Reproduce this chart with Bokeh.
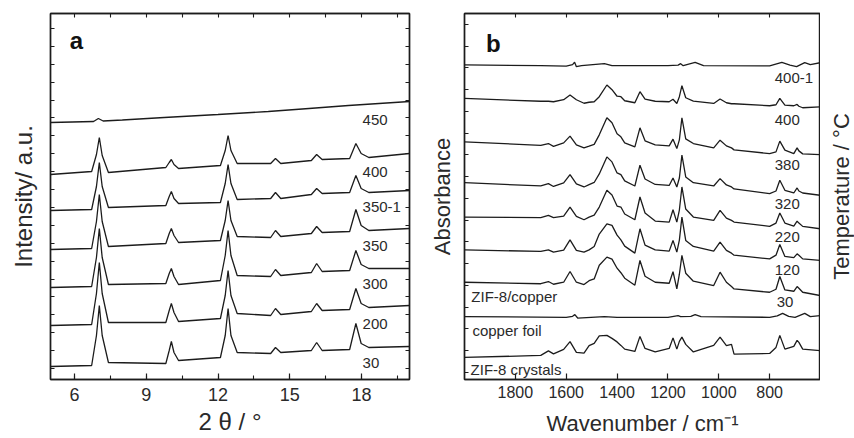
from bokeh.plotting import figure
from bokeh.models import Range1d, LinearAxis, FixedTicker, SingleIntervalTicker
from bokeh.layouts import row
from bokeh.embed import file_html
from bokeh.resources import INLINE
from bokeh.core.properties import value

FONT = "Liberation Sans"
INK = "#1c1c1c"
TXT = "#2a2a2a"

# ---------------- Panel a : XRD patterns (2 theta, intensity a.u.) ----------------
TWO_THETA = [5.0, 6.72, 6.92, 7.04, 7.16, 7.42, 9.82, 9.96, 10.05, 10.16, 10.35,
             12.1, 12.3, 12.42, 12.54, 12.8, 14.2, 14.4, 14.62, 15.9, 16.12, 16.35,
             17.5, 17.76, 17.98, 18.3, 20.0]
XRD_30 = [13, 14, 44, 74, 44, 17, 16, 29, 38, 27, 19, 22, 44, 71, 44, 27, 26, 32, 27,
          29, 37, 29, 30, 56, 36, 32, 33]
XRD_200 = [54, 55, 86, 117, 86, 57, 57, 69, 76, 67, 58, 61, 84, 109, 84, 66, 64, 71, 65,
           68, 76, 69, 70, 91, 76, 72, 74]
XRD_300 = [92, 93, 122, 151, 122, 95, 96, 106, 111, 103, 95, 99, 124, 149, 124, 104, 103,
           110, 104, 107, 116, 108, 109, 129, 115, 111, 111]
XRD_350 = [130, 131, 158, 185, 158, 133, 136, 146, 151, 144, 137, 139, 159, 179, 159, 143,
           142, 149, 143, 146, 153, 147, 148, 170, 154, 149, 151]
XRD_350_1 = [169, 170, 193, 217, 193, 172, 174, 183, 188, 181, 176, 177, 196, 215, 196, 180,
             181, 187, 181, 185, 191, 186, 187, 204, 191, 187, 189]
XRD_400 = [205, 208, 225, 242, 224, 207, 212, 217, 220, 215, 211, 214, 229, 244, 229, 216,
           216, 221, 216, 219, 225, 220, 221, 236, 226, 222, 226]
TWO_THETA_450 = [5.0, 6.8, 7.0, 7.2, 8.0, 9.75, 12.0, 14.1, 15.8, 17.45, 20.0]
XRD_450 = [257, 258, 261, 258.5, 259.5, 262, 265, 268, 271, 274, 278]

XRD_LABELS = ["450", "400", "350-1", "350", "300", "200", "30"]
XRD_LABEL_Y = [260, 208, 173, 134, 96, 56, 17]
XRD_LABEL_X = 18.04

# ---------------- Panel b : FTIR spectra (wavenumber, absorbance a.u.) ----------------
WAVENUMBER = [2000, 1700, 1670, 1650, 1610, 1585, 1560, 1530, 1510, 1490, 1470, 1440, 1420,
              1400, 1385, 1370, 1330, 1310, 1290, 1250, 1195, 1180, 1165, 1155, 1145, 1130,
              1100, 1020, 995, 970, 950, 940, 800, 775, 760, 740, 705, 692, 685, 670, 600]
IR_400 = [280.3, 277.5, 277.5, 277, 279, 283.7, 279, 275.5, 276.5, 277, 282, 293.7, 289,
          282.5, 282, 278, 276, 287, 279.5, 277.5, 277, 279.5, 275.3, 282, 293, 281, 277.7,
          275.3, 279.7, 276, 275, 275, 273, 274, 280.3, 273.7, 273, 274.3, 272.5, 271, 272]
IR_380 = [237, 233.5, 235.3, 232.5, 236, 242.7, 234, 231, 232.7, 234.5, 244, 261, 256, 245,
          242, 236, 232, 251, 238, 234, 233, 239.7, 230.3, 239, 261, 240, 235.3, 231, 238.7,
          233, 231, 229, 225.3, 227, 237.7, 228.7, 225.3, 231, 228, 225, 224.3]
IR_320 = [196.3, 193, 195.3, 192.5, 196, 204.3, 195, 192, 194.3, 196.5, 205, 222, 217, 206,
          204.3, 198, 193, 213.7, 200, 194.5, 193.5, 201, 192, 201, 223.7, 202, 196.3, 193,
          200.3, 194, 192, 190, 185.3, 188, 198.7, 188.7, 186, 191, 188, 186, 183.7]
IR_220 = [162, 161.5, 163.7, 161.5, 163, 172, 162.7, 159.3, 162, 164, 172, 188.7, 184, 173,
          172, 165, 159.3, 182, 166, 158, 157, 169.3, 157, 169, 192, 170, 162, 158.7, 168.7,
          161, 158.7, 157, 152.7, 156, 166, 156, 153, 158, 156, 152.7, 150.3]
IR_120 = [129.3, 127.7, 129.3, 127, 129, 139.3, 128.7, 127, 129.3, 132.7, 145, 155.3, 153.7,
          144, 139.3, 133, 126, 150.3, 134, 129.3, 128, 138.7, 127, 139, 162, 138.7, 132.7,
          128, 137, 128.7, 126, 124, 120.3, 124, 134.7, 122.7, 121.5, 125.3, 124, 120.3, 118.7]
IR_30 = [97, 95.5, 97.7, 95, 97, 107.7, 97, 94.7, 98.5, 100.3, 114, 122, 120, 111, 106.5, 101,
         94, 118.7, 103, 97, 96, 107.5, 90.3, 105, 123.7, 106, 98, 93.7, 107, 97, 92.7, 90.3,
         87, 90, 102.7, 89.3, 88, 92.7, 91, 87, 83.7]
IR_CRYSTALS = [22, 24, 28.5, 25.5, 30, 37.8, 27, 26.3, 33.7, 36, 43.5, 44, 41, 37.5, 34, 30.3,
               28, 43, 31, 27.5, 31, 41.5, 30.3, 38, 42.3, 35, 27.5, 34, 42.3, 33.7, 35, 25.3,
               26, 32, 44, 30.3, 33, 39, 37, 30.3, 28.7]
WAVENUMBER_400_1 = [2000, 1700, 1600, 1575, 1567, 1560, 1540, 1450, 1420, 1200, 1160, 1150,
                    1140, 1093, 1060, 800, 752, 720, 694, 662, 640, 600]
IR_400_1 = [313.7, 313, 312.5, 314, 316.5, 312, 313, 315, 313, 313, 313.5, 315, 313, 316.3,
            313, 312.7, 316.3, 313.5, 312, 316, 314, 316]
WAVENUMBER_CU = [2000, 1600, 1575, 1566, 1555, 1450, 1400, 1200, 1160, 1150, 1110, 1093,
                 1070, 800, 770, 749, 725, 700, 662, 640, 600]
IR_CU = [62.7, 62, 63, 64.7, 61.3, 62.7, 62, 62, 63.7, 62.7, 63, 64.7, 62.7, 62, 63.5, 66,
         63, 62, 66, 62.7, 63.7]

IR_RIGHT_LABELS = ["400-1", "400", "380", "320", "220", "120", "30"]
IR_RIGHT_LABEL_X = [780, 780, 780, 780, 780, 780, 772]
IR_RIGHT_LABEL_Y = [301, 259, 214, 175, 142, 109, 77]
IR_LEFT_LABELS = ["ZIF-8/copper", "copper foil", "ZIF-8 crystals"]
IR_LEFT_LABEL_X = [1973, 1969, 1976]
IR_LEFT_LABEL_Y = [83, 49, 10]


def style_axis(ax):
    ax.axis_line_color = INK
    ax.axis_line_width = 1.4
    ax.major_tick_in = 6
    ax.major_tick_out = 0
    ax.minor_tick_in = 4
    ax.minor_tick_out = 0
    ax.major_tick_line_color = INK
    ax.minor_tick_line_color = INK
    ax.major_tick_line_width = 1.2
    ax.minor_tick_line_width = 1.1
    ax.major_label_text_font = FONT
    ax.major_label_text_color = TXT
    ax.axis_label_text_font = FONT
    ax.axis_label_text_font_style = "normal"
    ax.axis_label_text_color = TXT


def bare_axis(ax):
    # axis that only carries inward tick marks (all as minor ticks, so no tick labels)
    style_axis(ax)
    ax.major_label_standoff = 0


BORDER_TOP = 13
BORDER_BOTTOM = 59

# ---------------- Figure a ----------------
pa = figure(width=426, height=438, x_range=Range1d(5, 20), y_range=Range1d(0, 366),
            output_backend="svg", toolbar_location=None,
            min_border_left=50, min_border_right=17, min_border_top=BORDER_TOP,
            min_border_bottom=BORDER_BOTTOM)
pa.background_fill_color = "white"
pa.border_fill_color = "white"
pa.outline_line_color = INK
pa.outline_line_width = 1.4
pa.xgrid.visible = False
pa.ygrid.visible = False

xa_ticker = SingleIntervalTicker(interval=3, num_minor_ticks=2)
xa_marks = FixedTicker(ticks=[], minor_ticks=[4.5 + 1.5 * k for k in range(12)])
ya_marks = FixedTicker(ticks=[], minor_ticks=[11 + 17.9 * k for k in range(21)])

pa.xaxis.ticker = xa_ticker
style_axis(pa.xaxis[0])
pa.xaxis.major_label_text_font_size = "18px"
pa.xaxis.major_label_standoff = 8
pa.xaxis.axis_label = "2 θ / °"
pa.xaxis.axis_label_text_font_size = "24px"
pa.xaxis.axis_label_standoff = 4

pa.yaxis.ticker = ya_marks
bare_axis(pa.yaxis[0])
pa.yaxis.axis_label = "Intensity/ a.u."
pa.yaxis.axis_label_text_font_size = "24px"
pa.yaxis.axis_label_standoff = 14

top_a = LinearAxis(ticker=xa_marks)
bare_axis(top_a)
pa.add_layout(top_a, "above")
right_a = LinearAxis(ticker=ya_marks)
bare_axis(right_a)
pa.add_layout(right_a, "right")

for ys in [XRD_30, XRD_200, XRD_300, XRD_350, XRD_350_1, XRD_400]:
    pa.line(TWO_THETA, ys, line_color=INK, line_width=1.3)
pa.line(TWO_THETA_450, XRD_450, line_color=INK, line_width=1.3)

pa.text(x=[XRD_LABEL_X] * len(XRD_LABELS), y=XRD_LABEL_Y, text=XRD_LABELS,
        text_font=value(FONT), text_font_size="15px", text_color=TXT,
        text_align="left", text_baseline="middle")
pa.text(x=[6.08], y=[339], text=["a"], text_font=value(FONT), text_font_size="24px",
        text_font_style="bold", text_color="#111111", text_align="center",
        text_baseline="middle")

# ---------------- Figure b ----------------
pb = figure(width=394, height=438, x_range=Range1d(2000, 600), y_range=Range1d(0, 365),
            output_backend="svg", toolbar_location=None,
            min_border_left=35, min_border_right=0, min_border_top=BORDER_TOP,
            min_border_bottom=BORDER_BOTTOM)
pb.background_fill_color = "white"
pb.border_fill_color = "white"
pb.outline_line_color = INK
pb.outline_line_width = 1.4
pb.xgrid.visible = False
pb.ygrid.visible = False

xb_ticker = FixedTicker(ticks=[1800, 1600, 1400, 1200, 1000, 800], minor_ticks=[])
xb_marks = FixedTicker(ticks=[], minor_ticks=[1800, 1600, 1400, 1200, 1000, 800])
yb_marks = FixedTicker(ticks=[], minor_ticks=[7 + 21.7 * k for k in range(17)])

pb.xaxis.ticker = xb_ticker
style_axis(pb.xaxis[0])
pb.xaxis.major_label_text_font_size = "16px"
pb.xaxis.major_label_standoff = 6
pb.xaxis.axis_label = "Wavenumber / cm⁻¹"
pb.xaxis.axis_label_text_font_size = "22px"
pb.xaxis.axis_label_standoff = 10

pb.yaxis.ticker = yb_marks
bare_axis(pb.yaxis[0])
pb.yaxis.axis_label = "Absorbance"
pb.yaxis.axis_label_text_font_size = "22px"
pb.yaxis.axis_label_standoff = 10

top_b = LinearAxis(ticker=xb_marks)
bare_axis(top_b)
pb.add_layout(top_b, "above")

for ys in [IR_400, IR_380, IR_320, IR_220, IR_120, IR_30, IR_CRYSTALS]:
    pb.line(WAVENUMBER, ys, line_color=INK, line_width=1.3)
pb.line(WAVENUMBER_400_1, IR_400_1, line_color=INK, line_width=1.3)
pb.line(WAVENUMBER_CU, IR_CU, line_color=INK, line_width=1.3)

pb.text(x=IR_RIGHT_LABEL_X, y=IR_RIGHT_LABEL_Y, text=IR_RIGHT_LABELS,
        text_font=value(FONT), text_font_size="15px", text_color=TXT,
        text_align="left", text_baseline="middle")
pb.text(x=IR_LEFT_LABEL_X, y=IR_LEFT_LABEL_Y, text=IR_LEFT_LABELS,
        text_font=value(FONT), text_font_size="15px", text_color=TXT,
        text_align="left", text_baseline="middle")
pb.text(x=[1887], y=[335], text=["b"], text_font=value(FONT), text_font_size="24px",
        text_font_style="bold", text_color="#111111", text_align="center",
        text_baseline="middle")

# ---------------- Right-hand "Temperature" axis title (reads bottom to top) ----------------
pc = figure(width=34, height=438, x_range=Range1d(0, 1), y_range=Range1d(0, 1),
            output_backend="svg", toolbar_location=None,
            min_border_left=33, min_border_right=0, min_border_top=BORDER_TOP,
            min_border_bottom=BORDER_BOTTOM)
pc.outline_line_color = None
pc.background_fill_color = "white"
pc.border_fill_color = "white"
pc.xgrid.visible = False
pc.ygrid.visible = False
pc.xaxis.visible = False
pc.yaxis.ticker = FixedTicker(ticks=[], minor_ticks=[])
pc.yaxis.axis_line_color = None
pc.yaxis.major_tick_line_color = None
pc.yaxis.minor_tick_line_color = None
pc.yaxis.major_label_standoff = 0
pc.yaxis.axis_label = "Temperature / °C"
pc.yaxis.axis_label_text_font = FONT
pc.yaxis.axis_label_text_font_style = "normal"
pc.yaxis.axis_label_text_font_size = "22px"
pc.yaxis.axis_label_text_color = TXT
pc.yaxis.axis_label_standoff = 0

layout = row(pa, pb, pc)
open("out.html", "w").write(file_html(layout, INLINE))
